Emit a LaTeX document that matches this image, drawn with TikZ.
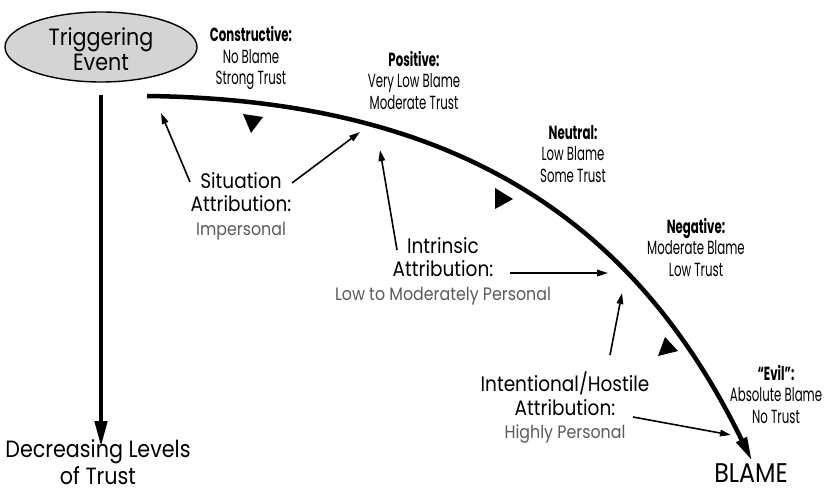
\documentclass[tikz,border=0pt]{standalone}
\usepackage{fontspec}
\setmainfont[FakeStretch=0.88]{Poppins}
\newfontfamily\condfont[FakeStretch=0.62]{Poppins}
\usetikzlibrary{arrows.meta,shapes.geometric}
\definecolor{evfill}{HTML}{D4D4D4}
\definecolor{subgray}{HTML}{5A5A5A}
% grey third line under each attribution
\newcommand\attrsub[1]{{\color{subgray}\fontsize{18}{20}\selectfont #1}}
\begin{document}
\begin{tikzpicture}[x=1pt,y=-1pt,
  maintext/.style={align=center,inner sep=0pt,
    font=\fontsize{21}{23.5}\selectfont},
  leveltext/.style={align=center,inner sep=0pt,
    font=\condfont\fontsize{19}{21.5}\selectfont},
  pointer/.style={line width=1.6pt,-{Triangle[length=11pt,width=6.5pt]}},
  marker/.style={fill=black,draw=none}]
\useasboundingbox (0,0) rectangle (832,492);

% starting event
\node[ellipse,draw,line width=1.4pt,fill=evfill,minimum width=192pt,
  minimum height=70pt,inner sep=0pt] (trig) at (101,47) {};
\node[maintext,font=\fontsize{23.5}{25}\selectfont] (trigtxt) at (101,49) {Triggering\\Event};

% trust axis
\coordinate (axtop) at (101,95);
\coordinate (axbot) at (101,447);
\draw[line width=4.5pt,-{Triangle[length=26pt,width=12pt]}] (axtop) -- (axbot);
\node[maintext,font=\fontsize{23.5}{27}\selectfont] (dec) at (98,462) {Decreasing Levels\\of Trust};

% blame curve
\coordinate (cstart) at (147,96);
\coordinate (cend) at (752,461);
\draw[line width=4.5pt,-{Triangle[length=24pt,width=11pt]}]
  (cstart) .. controls (470,100) and (640,232) .. (cend);
\node[maintext,font=\fontsize{27}{28}\selectfont] (blame) at (751,473) {BLAME};

% direction markers along the curve
\fill[marker] (243,114) -- (263,117) -- (251,133) -- cycle;
\fill[marker] (495,188) -- (495,209) -- (513,199) -- cycle;
\fill[marker] (665,337) -- (658,356) -- (678,351) -- cycle;

% levels along the curve
\node[leveltext] (constr) at (251,58)
  {\textbf{Constructive:}\\No Blame\\Strong Trust};
\node[leveltext] (posit) at (414,80)
  {\textbf{Positive:}\\Very Low Blame\\Moderate Trust};
\node[leveltext] (neutr) at (573,154)
  {\textbf{Neutral:}\\Low Blame\\Some Trust};
\node[leveltext] (negat) at (696,247)
  {\textbf{Negative:}\\Moderate Blame\\Low Trust};
\node[leveltext] (evil) at (776,394)
  {\textbf{“Evil”:}\\Absolute Blame\\No Trust};

% attributions
\node[maintext] (sit) at (241,206)
  {Situation\\Attribution:\\\attrsub{Impersonal}};
\node[maintext] (intr) at (443,271)
  {Intrinsic\\Attribution:\\\attrsub{Low to Moderately Personal}};
\node[maintext] (inten) at (565,408)
  {Intentional/Hostile\\Attribution:\\\attrsub{Highly Personal}};

% attribution pointers
\coordinate (sitA) at (190,182);
\coordinate (sitAt) at (161,113);
\coordinate (sitB) at (292,183);
\coordinate (sitBt) at (360,132);
\coordinate (intA) at (397,250);
\coordinate (intAt) at (380,150);
\coordinate (intB) at (510,273);
\coordinate (intBt) at (608,273);
\coordinate (hosA) at (610,355);
\coordinate (hosAt) at (622,293);
\coordinate (hosB) at (633,417);
\coordinate (hosBt) at (731,435);
\draw[pointer] (sitA) -- (sitAt);
\draw[pointer] (sitB) -- (sitBt);
\draw[pointer] (intA) -- (intAt);
\draw[pointer] (intB) -- (intBt);
\draw[pointer] (hosA) -- (hosAt);
\draw[pointer] (hosB) -- (hosBt);
\end{tikzpicture}
\end{document}
